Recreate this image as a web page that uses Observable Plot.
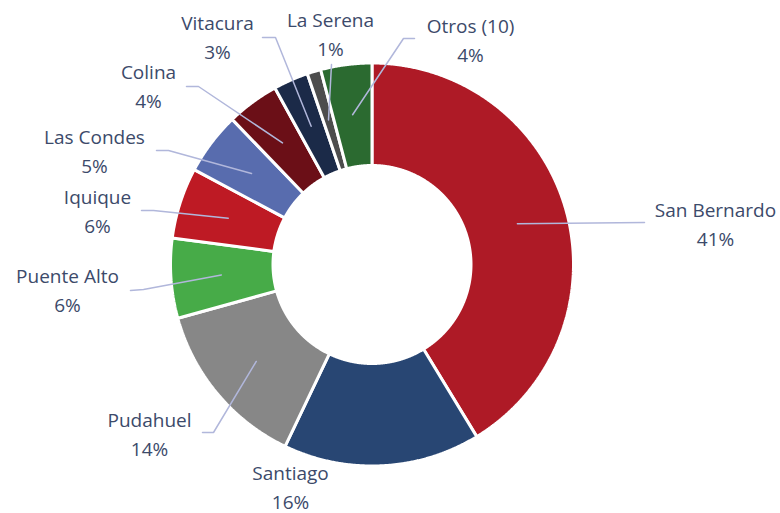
<!DOCTYPE html>
<html>
<head>
<meta charset="utf-8">
<script src="https://cdn.jsdelivr.net/npm/d3@7"></script>
<script src="https://cdn.jsdelivr.net/npm/@observablehq/plot@0.6"></script>
<style>
  html, body { margin: 0; padding: 0; background: #ffffff; }
  #chart { width: 780px; height: 513px; }
</style>
</head>
<body>
<div id="chart"></div>
<script>
// ---- data ----
const names = ["San Bernardo", "Santiago", "Pudahuel", "Puente Alto", "Iquique",
               "Las Condes", "Colina", "Vitacura", "La Serena", "Otros (10)"];
const shares = [41.3, 15.8, 13.6, 6.4, 5.7, 5.0, 4.2, 2.8, 1.1, 4.1];
const colors = ["#ae1a26", "#284673", "#878787", "#47ab48", "#be1a24",
                "#586cae", "#6b0f17", "#1b2a48", "#4d4d4d", "#2b6a30"];

// ---- layout (pixel frame) ----
const cx = 371.5, cy = 264, rOuter = 201.5, rInner = 99, rLeader = 151;
// label block centres [x, y] and leader elbow/end points
const labelPos = [[715, 222], [290, 485], [149, 432], [67, 288], [97, 209],
                  [94, 149], [148, 84], [217, 35], [330, 32], [470, 38]];
const leaderElbow = [[644, 222], null, [213, 432], [143, 289], [153, 210],
                     [168, 150], [198, 86], [275, 37], [331, 64], [403, 38]];
const leaderEnd = [[644, 222], null, [202, 432], [130, 290], [141, 210],
                   [156, 150], [186, 86], [262, 37], [331, 64], [414, 38]];

const pie = d3.pie().sort(null).value(d => d)(shares);
const pt = (r, a) => ({x: cx + r * Math.sin(a), y: cy - r * Math.cos(a)});

const slicePts = [];
pie.forEach((p, i) => {
  const n = Math.max(2, Math.ceil((p.endAngle - p.startAngle) / 0.005));
  const pts = [];
  for (let k = 0; k <= n; k++) pts.push(pt(rOuter, p.startAngle + (p.endAngle - p.startAngle) * k / n));
  for (let k = n; k >= 0; k--) pts.push(pt(rInner, p.startAngle + (p.endAngle - p.startAngle) * k / n));
  pts.push(pts[0]);
  pts.forEach(q => slicePts.push({...q, name: names[i]}));
});

const leaderPts = [];
pie.forEach((p, i) => {
  if (!leaderEnd[i]) return;
  const s = pt(rLeader, (p.startAngle + p.endAngle) / 2);
  leaderPts.push({x: s.x, y: s.y, name: names[i]});
  leaderPts.push({x: leaderElbow[i][0], y: leaderElbow[i][1], name: names[i]});
  leaderPts.push({x: leaderEnd[i][0], y: leaderEnd[i][1], name: names[i]});
});

const labels = names.map((n, i) => ({
  x: labelPos[i][0], y: labelPos[i][1],
  text: n + "\n" + Math.round(shares[i]) + "%"
}));

const chart = Plot.plot({
  width: 780,
  height: 513,
  margin: 0,
  style: {fontFamily: "'Open Sans', 'Noto Sans', sans-serif", background: "#ffffff", overflow: "visible"},
  x: {domain: [0, 780], range: [0, 780], axis: null},
  y: {domain: [0, 513], range: [0, 513], axis: null},
  color: {domain: names, range: colors},
  marks: [
    Plot.line(slicePts, {x: "x", y: "y", z: "name", fill: "name", stroke: "#ffffff", strokeWidth: 3, strokeLinejoin: "miter"}),
    Plot.line(leaderPts, {x: "x", y: "y", z: "name", stroke: "#b1b7db", strokeWidth: 1.5, strokeLinejoin: "miter"}),
    Plot.text(labels, {x: "x", y: "y", text: "text", fill: "#3c4a6a", fontSize: 19, lineHeight: 1.5, textAnchor: "middle"})
  ]
});
document.getElementById("chart").appendChild(chart);
</script>
</body>
</html>
